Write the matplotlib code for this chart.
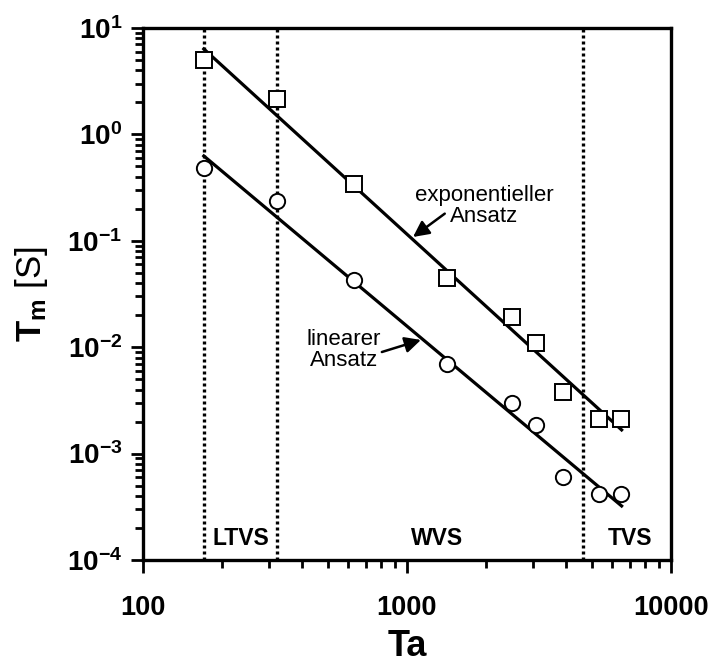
import matplotlib
matplotlib.use("Agg")
import matplotlib.pyplot as plt
from matplotlib.ticker import FixedLocator, FixedFormatter, LogLocator, NullFormatter

plt.rcParams['font.family'] = ['Liberation Sans', 'DejaVu Sans']
plt.rcParams['mathtext.fontset'] = 'custom'
plt.rcParams['mathtext.rm'] = 'Liberation Sans'
plt.rcParams['mathtext.bf'] = 'Liberation Sans:bold'
plt.rcParams['mathtext.it'] = 'Liberation Sans:italic'

# Data
ta = [170, 322, 630, 1420, 2500, 3090, 3900, 5330, 6470]
tm_exp = [5.0, 2.15, 0.342, 0.0447, 0.0192, 0.0110, 0.00379, 0.00211, 0.00211]
tm_lin = [0.483, 0.237, 0.0428, 0.00695, 0.00299, 0.00186, 0.000603, 0.000417, 0.000417]

fit_x = [170, 6500]
fit_exp = [6.35, 0.00167]
fit_lin = [0.627, 0.000322]

regime_bounds = [170, 322, 4640]
regime_labels = ["LTVS", "WVS", "TVS"]
regime_label_x = [235, 1300, 7000]

xticks = [100, 1000, 10000]
xtick_labels = ["100", "1000", "10000"]
yticks = [1e-4, 1e-3, 1e-2, 1e-1, 1e0, 1e1]
ytick_labels = [r"$\mathbf{10^{-4}}$", r"$\mathbf{10^{-3}}$", r"$\mathbf{10^{-2}}$",
                r"$\mathbf{10^{-1}}$", r"$\mathbf{10^{0}}$", r"$\mathbf{10^{1}}$"]

fig = plt.figure(figsize=(7.28, 6.66), dpi=100)
ax = fig.add_axes([143/728, 1-560/666, (671-143)/728, (560-28)/666])
ax.set_xscale('log')
ax.set_yscale('log')
ax.set_xlim(100, 10000)
ax.set_ylim(1e-4, 10)

for xb in regime_bounds:
    ax.axvline(xb, color='black', lw=2.4, linestyle=(0, (0.9, 0.9)), zorder=1)

ax.plot(fit_x, fit_exp, color='black', lw=2.3, zorder=2)
ax.plot(fit_x, fit_lin, color='black', lw=2.3, zorder=2)
ax.plot(ta, tm_exp, linestyle='none', marker='s', ms=11, mfc='white', mec='black', mew=1.4, zorder=3)
ax.plot(ta, tm_lin, linestyle='none', marker='o', ms=11, mfc='white', mec='black', mew=1.4, zorder=3)

for xl, lab in zip(regime_label_x, regime_labels):
    ax.text(xl, 1.6e-4, lab, ha='center', va='center', fontsize=16.5, fontweight='bold')

# annotation texts
ax.text(1959, 0.212, "exponentieller\nAnsatz", ha='center', va='center', fontsize=16, linespacing=1.05)
ax.text(577, 0.00942, "linearer\nAnsatz", ha='center', va='center', fontsize=16, linespacing=1.05)
# arrows
ax.annotate("", xy=(1054, 0.1086), xytext=(1390, 0.180),
            arrowprops=dict(arrowstyle='-|>', color='black', lw=1.8, mutation_scale=24,
                            shrinkA=0, shrinkB=0))
ax.annotate("", xy=(1129, 0.0117), xytext=(803, 0.00901),
            arrowprops=dict(arrowstyle='-|>', color='black', lw=1.8, mutation_scale=24,
                            shrinkA=0, shrinkB=0))

ax.xaxis.set_major_locator(FixedLocator(xticks))
ax.xaxis.set_major_formatter(FixedFormatter(xtick_labels))
ax.xaxis.set_minor_locator(LogLocator(base=10, subs=range(2, 10)))
ax.xaxis.set_minor_formatter(NullFormatter())
ax.yaxis.set_major_locator(FixedLocator(yticks))
ax.yaxis.set_major_formatter(FixedFormatter(ytick_labels))
ax.yaxis.set_minor_locator(LogLocator(base=10, subs=range(2, 10)))
ax.yaxis.set_minor_formatter(NullFormatter())

ax.tick_params(which='both', direction='out', top=False, right=False, width=2)
ax.tick_params(which='major', length=9)
ax.tick_params(which='minor', length=6)
ax.tick_params(axis='x', which='major', labelsize=19.5, pad=16)
ax.tick_params(axis='y', which='major', labelsize=20, pad=6)
for lab in ax.get_xticklabels():
    lab.set_fontweight('bold')

for sp in ax.spines.values():
    sp.set_linewidth(2.4)

ax.set_xlabel("Ta", fontsize=26, fontweight='bold', labelpad=6)
ax.set_ylabel(r"$\mathbf{T_m}$ [S]", fontsize=25, labelpad=12)

fig.savefig("out.png", dpi=100)
